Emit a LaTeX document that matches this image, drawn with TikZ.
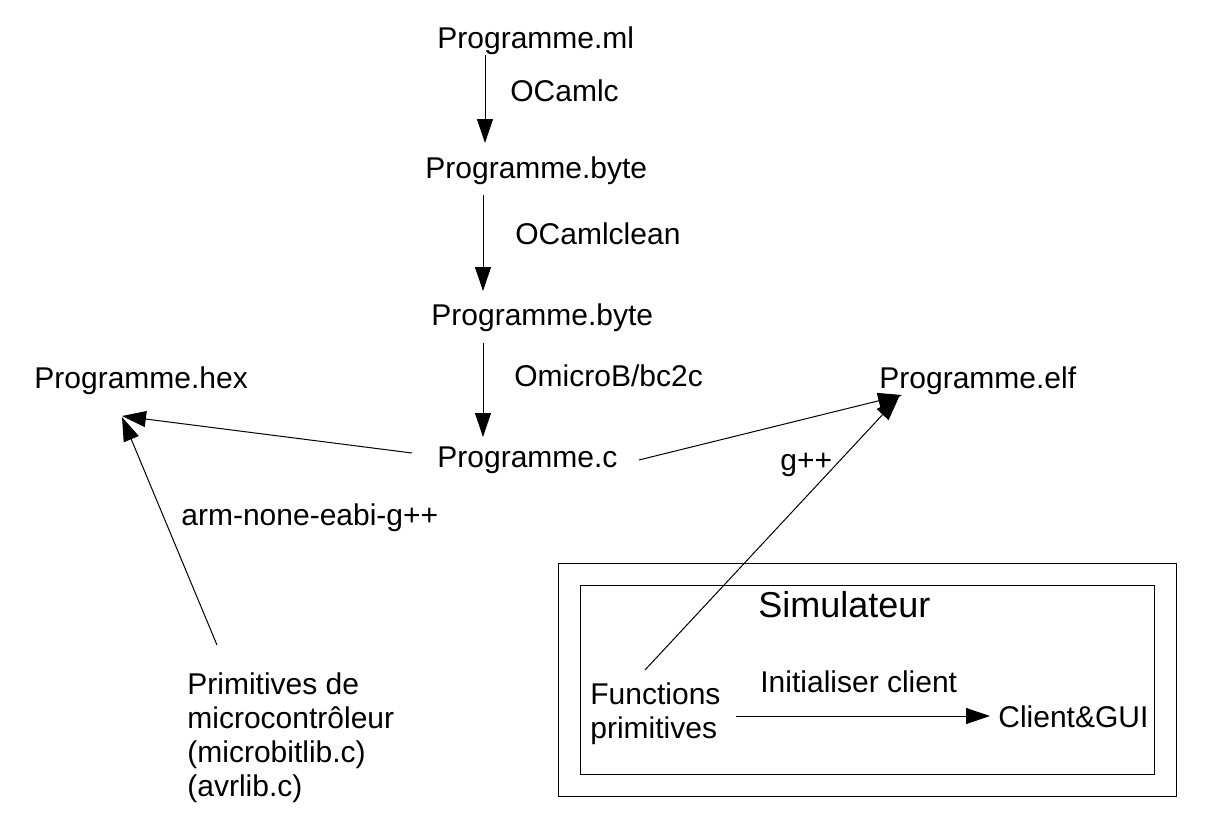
\documentclass[tikz,border=0pt]{standalone}
\usepackage{fontspec}
\setmainfont{Liberation Sans}
\usetikzlibrary{arrows.meta,calc}

\begin{document}
\begin{tikzpicture}[x=0.5pt,y=-0.5pt,
        txt/.style={inner sep=0pt,anchor=base west,font=\fontsize{15}{17}\selectfont},
        blk/.style={txt,anchor=north west,align=left},
        arr/.style={-{Triangle[length=12pt,width=8pt]},line width=0.5pt}]
            \useasboundingbox (0,0) rectangle (1217,832);
            % compilation chain
            \node[txt] (ml) at (437,48) {Programme.ml};
            \node[txt] (byteA) at (425,178) {Programme.byte};
            \node[txt] (byteB) at (431,325) {Programme.byte};
            \node[txt] (prgc) at (437,467) {Programme.c};
            \node[txt] (hex) at (34,388) {Programme.hex};
            \node[txt] (elf) at (879,388) {Programme.elf};
            \node[blk] (prim) at (187,672) {Primitives de\\microcontrôleur\\(microbitlib.c)\\(avrlib.c)};
            % labels
            \node[txt] (ocamlc) at (510,101) {OCamlc};
            \node[txt] (clean) at (515,244) {OCamlclean};
            \node[txt] (bctoc) at (514,386) {OmicroB/bc2c};
            \node[txt] (arm) at (181,525) {arm-none-eabi-g++};
            \node[txt] (gpp) at (780,470) {g++};
            % simulator
            \draw[line width=0.5pt] (558,563) rectangle (1176,796);
            \draw[line width=0.5pt] (580,585) rectangle (1154,774);
            \node[txt,font=\fontsize{18}{21}\selectfont] (simu) at (758,617) {Simulateur};
            \node[blk] (fp) at (590,682) {Functions\\primitives};
            \node[txt] (init) at (760,692) {Initialiser client};
            \node[txt] (gui) at (998,727) {Client\&GUI};
            \draw[arr] ($(ml.base west)+(48,7)$) -- ($(byteA.base west)+(60,-35)$);
            \draw[arr] ($(byteA.base west)+(58,17)$) -- ($(byteB.base west)+(52,-34)$);
            \draw[arr] ($(byteB.base west)+(52,18)$) -- ($(prgc.base west)+(46,-30)$);
            \draw[arr] ($(prgc.base west)+(-25,-14)$) -- ($(hex.base west)+(88,28)$);
            \draw[arr] ($(prim.north west)+(30,-27)$) -- ($(hex.base west)+(88,29)$);
            \draw[arr] ($(prgc.base east)+(21,-7)$) -- ($(elf.base west)+(23,7)$);
            \draw[arr] ($(fp.north west)+(55,-12)$) -- ($(elf.base west)+(20,9)$);
            \draw[arr] ($(fp.east |- gui.base west)+(15,-11)$) -- ($(gui.base west)+(-8,-11)$);
        \end{tikzpicture}
\end{document}
